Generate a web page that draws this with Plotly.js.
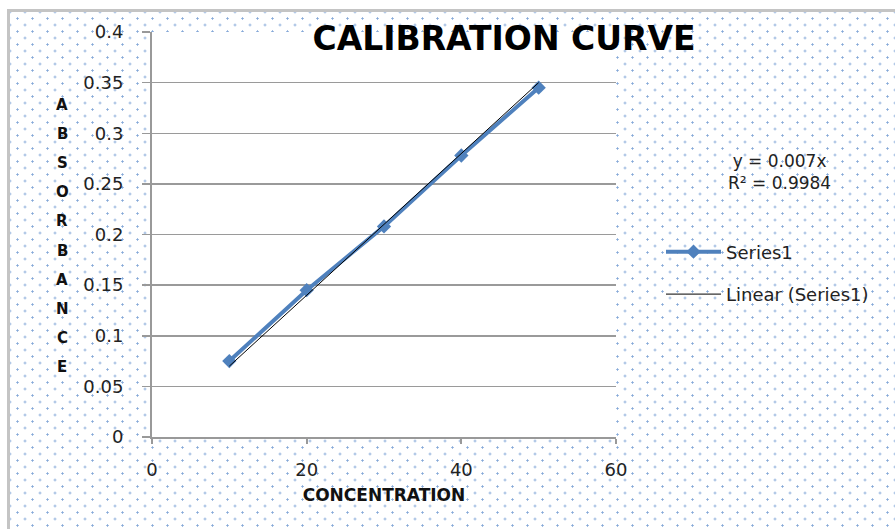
<!DOCTYPE html>
<html>
<head>
<meta charset="utf-8">
<script src="https://cdn.plot.ly/plotly-3.0.1.min.js"></script>
<style>
  html, body { margin: 0; padding: 0; background: #fff; }
  #wrap { position: relative; width: 895px; height: 529px; overflow: hidden; background: #fff; }
  #bg {
    position: absolute; left: 7px; top: 9px; width: 900px; height: 530px;
    border-left: 3px solid #c4c4c4; border-top: 3px solid #c4c4c4;
    background-color: #fff;
    background-image:
      radial-gradient(circle, #86a9d8 0.9px, transparent 1.3px),
      radial-gradient(circle, #86a9d8 0.9px, transparent 1.3px);
    background-size: 15px 13px, 15px 13px;
    background-position: 0px 0px, 7.5px 6.5px;
  }
  #chart { position: absolute; left: 0; top: 0; width: 895px; height: 529px; }
</style>
</head>
<body>
<div id="wrap">
  <div id="bg"></div>
  <div id="chart"></div>
</div>
<script>
const concentration = [10, 20, 30, 40, 50];
const absorbance = [0.075, 0.145, 0.208, 0.278, 0.345];
const trendX = [10, 50];
const trendY = [0.07, 0.35];
const yTicks = [0, 0.05, 0.1, 0.15, 0.2, 0.25, 0.3, 0.35, 0.4];
const yTickText = ['0', '0.05', '0.1', '0.15', '0.2', '0.25', '0.3', '0.35', '0.4'];
const xTicks = [0, 20, 40, 60];
const xTickText = ['0', '20', '40', '60'];
const yTitleLetters = ['A', 'B', 'S', 'O', 'R', 'B', 'A', 'N', 'C', 'E'];

const FONT = '"DejaVu Sans", sans-serif';

const traces = [
  {
    x: concentration, y: absorbance, name: 'Series1', type: 'scatter', mode: 'lines+markers',
    legendgroup: 'a',
    line: { color: '#4f81bd', width: 4 },
    marker: { symbol: 'diamond', size: 11, color: '#4f81bd' }
  },
  {
    x: trendX, y: trendY, name: 'Linear (Series1)', type: 'scatter', mode: 'lines',
    legendgroup: 'b',
    line: { color: '#000', width: 1 }
  }
];

// Vertical stacked y-axis title letters
const letterAnnotations = yTitleLetters.map((ch, i) => ({
  xref: 'paper', yref: 'paper',
  x: (62 - 152) / 464,
  y: (437 - (105 + i * 29.1)) / 405,
  xanchor: 'center', yanchor: 'middle', showarrow: false,
  text: '<b>' + ch + '</b>',
  font: { family: FONT, size: 15, color: '#111' }
}));

const layout = {
  width: 895, height: 529,
  margin: { l: 152, r: 279, t: 32, b: 92 },
  paper_bgcolor: 'rgba(0,0,0,0)',
  plot_bgcolor: '#fff',
  font: { family: FONT, size: 16, color: '#222' },
  showlegend: true,
  legend: {
    x: (661 - 152) / 464, y: (437 - 273) / 405, xanchor: 'left', yanchor: 'middle',
    bgcolor: 'rgba(0,0,0,0)', itemwidth: 55,
    traceorder: 'grouped', tracegroupgap: 16,
    font: { family: FONT, size: 18, color: '#222' }
  },
  xaxis: {
    range: [0, 60], tickmode: 'array', tickvals: xTicks, ticktext: xTickText,
    showgrid: false, zeroline: false,
    showline: true, linecolor: '#999', linewidth: 2,
    ticks: 'outside', ticklen: 5, tickcolor: '#999', tickwidth: 2,
    ticklabelstandoff: 10,
    tickfont: { family: FONT, size: 18, color: '#222' },
    title: { text: '<b>CONCENTRATION</b>', font: { family: FONT, size: 17, color: '#111' }, standoff: 11 }
  },
  yaxis: {
    range: [0, 0.4], tickmode: 'array', tickvals: yTicks, ticktext: yTickText,
    showgrid: true, gridcolor: '#9a9a9a', gridwidth: 1.5, zeroline: false,
    showline: true, linecolor: '#999', linewidth: 2,
    ticks: 'outside', ticklen: 8, tickcolor: '#999', tickwidth: 1.5,
    ticklabelstandoff: 15,
    tickfont: { family: FONT, size: 18, color: '#222' }
  },
  title: {
    text: '<b>CALIBRATION CURVE</b>',
    font: { family: FONT, size: 33, color: '#000' },
    xref: 'container', yref: 'container',
    x: 504 / 895, xanchor: 'center', y: 1 - 38 / 529, yanchor: 'middle'
  },
  annotations: letterAnnotations.concat([
    {
      xref: 'paper', yref: 'paper', x: (779 - 152) / 464, y: (437 - 172) / 405,
      xanchor: 'center', yanchor: 'middle',
      text: 'y = 0.007x<br>R² = 0.9984', showarrow: false,
      font: { family: FONT, size: 17, color: '#222' }, align: 'center'
    }
  ])
};

Plotly.newPlot('chart', traces, layout, { displayModeBar: false, staticPlot: true });
</script>
</body>
</html>
